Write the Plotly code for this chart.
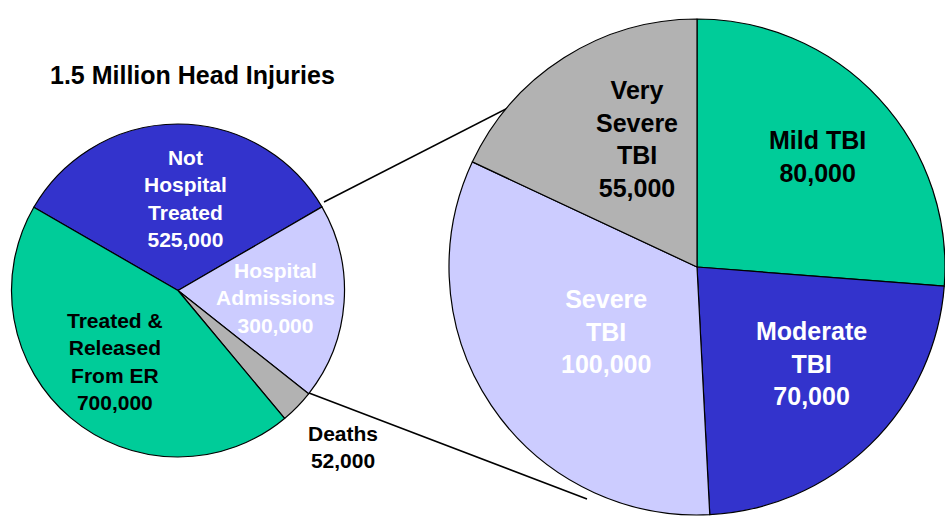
"""Head injury breakdown: overall pie with an exploded pie for hospital admissions."""

import plotly.graph_objects as go

W, H = 945, 529

title = "1.5 Million Head Injuries"

injury_labels = ["Not<br>Hospital<br>Treated", "Hospital<br>Admissions", "Deaths", "Treated &<br>Released<br>From ER"]
injury_values = [525000, 300000, 52000, 700000]

tbi_labels = ["Mild TBI", "Moderate<br>TBI", "Severe<br>TBI", "Very<br>Severe<br>TBI"]
tbi_values = [80000, 70000, 100000, 55000]

GREEN = "#00CC99"
BLUE = "#3333CC"
LAVENDER = "#CCCCFF"
GRAY = "#B2B2B2"
FONT = "Liberation Sans, Arial, sans-serif"

injury_colors = [BLUE, LAVENDER, GRAY, GREEN]
tbi_colors = [GREEN, BLUE, LAVENDER, GRAY]

# label placement (pixel centres) and text colours
injury_label_pos = [(185, 198), (275, 298), (343, 447), (115, 361)]
injury_label_color = ["white", "white", "black", "black"]
tbi_label_pos = [(817, 157), (811, 363), (606, 331), (637, 139)]
tbi_label_color = ["black", "white", "white", "black"]


def px(x, y):
    return x / W, 1 - y / H


fig = go.Figure()
fig.add_trace(go.Pie(
    labels=[l.replace("<br>", " ") for l in injury_labels],
    values=injury_values,
    marker=dict(colors=injury_colors, line=dict(color="black", width=1.2)),
    sort=False,
    direction="clockwise",
    rotation=-60,
    textinfo="none",
    domain=dict(x=[11 / W, 345 / W], y=[1 - 457 / H, 1 - 124 / H]),
    showlegend=False,
))
fig.add_trace(go.Pie(
    labels=[l.replace("<br>", " ") for l in tbi_labels],
    values=tbi_values,
    marker=dict(colors=tbi_colors, line=dict(color="black", width=1.2)),
    sort=False,
    direction="clockwise",
    rotation=0,
    textinfo="none",
    domain=dict(x=[449 / W, 1], y=[1 - 515 / H, 1 - 19 / H]),
    showlegend=False,
))

annotations = []
x, y = px(192, 75)
annotations.append(dict(x=x, y=y, xref="paper", yref="paper", text=f"<b>{title}</b>",
                        xanchor="center", yanchor="middle", showarrow=False,
                        font=dict(family=FONT, size=25, color="black")))
for lab, val, pos, col in zip(injury_labels, injury_values, injury_label_pos, injury_label_color):
    x, y = px(*pos)
    annotations.append(dict(x=x, y=y, xref="paper", yref="paper", text=f"<b>{lab}<br>{val:,}</b>",
                            xanchor="center", yanchor="middle", showarrow=False, align="center",
                            font=dict(family=FONT, size=21, color=col)))
for lab, val, pos, col in zip(tbi_labels, tbi_values, tbi_label_pos, tbi_label_color):
    x, y = px(*pos)
    annotations.append(dict(x=x, y=y, xref="paper", yref="paper", text=f"<b>{lab}<br>{val:,}</b>",
                            xanchor="center", yanchor="middle", showarrow=False, align="center",
                            font=dict(family=FONT, size=25, color=col)))

# connector lines from the admissions slice to the zoomed pie
shapes = []
for (x0, y0), (x1, y1) in [((324, 202), (541, 91)), ((309, 393), (587, 499))]:
    ax, ay = px(x0, y0)
    bx, by = px(x1, y1)
    shapes.append(dict(type="line", xref="paper", yref="paper", x0=ax, y0=ay, x1=bx, y1=by,
                       line=dict(color="black", width=1.5), layer="below"))

fig.update_layout(
    width=W,
    height=H,
    margin=dict(l=0, r=0, t=0, b=0),
    paper_bgcolor="white",
    plot_bgcolor="white",
    annotations=annotations,
    shapes=shapes,
)

# drop the browser's default body margin so the figure fills the window
fig.write_html("out.html", config={"displayModeBar": False},
               post_script="document.body.style.margin = '0';")
